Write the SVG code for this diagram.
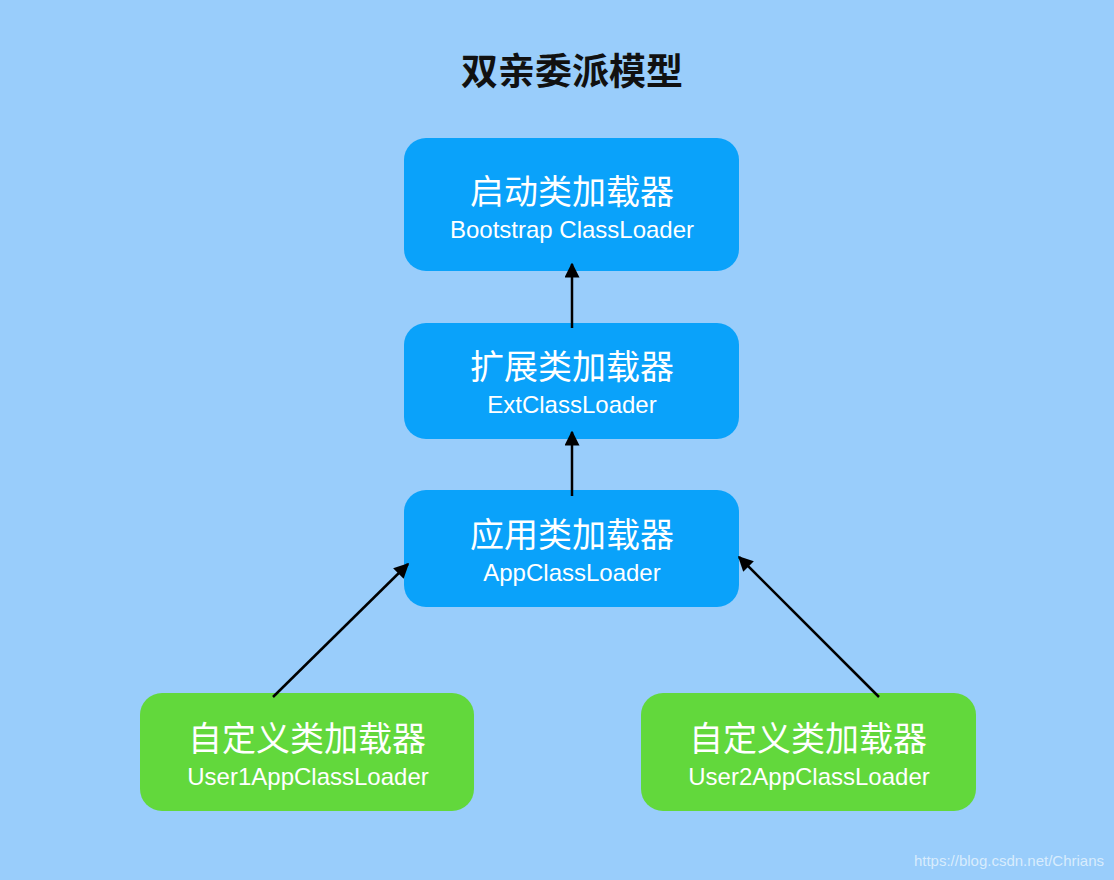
<svg xmlns="http://www.w3.org/2000/svg" width="1114" height="880" viewBox="0 0 1114 880">
<style>
.blue{fill:#0aa2fa}
.green{fill:#62d83c}
.cn{font-family:"Noto Sans CJK SC","Noto Sans",sans-serif;font-size:34px;fill:#fff;text-anchor:middle;font-weight:normal}
.en{font-family:"Liberation Sans","Noto Sans",sans-serif;font-size:24px;fill:#fff;text-anchor:middle}
.title{font-family:"Noto Sans CJK SC",sans-serif;font-size:37px;font-weight:bold;fill:#111;text-anchor:middle}
.edge{stroke:#000;stroke-width:2.5;fill:none;marker-end:url(#ah)}
</style>
<defs>
<marker id="ah" viewBox="0 0 10 10" refX="9" refY="5" markerWidth="6" markerHeight="6" orient="auto" markerUnits="strokeWidth">
<path d="M0,0 L10,5 L0,10 z" fill="#000"/>
</marker>
</defs>
<rect width="1114" height="880" fill="#99cdfb"/>
<text class="title" x="572" y="85">双亲委派模型</text>
<g id="bootstrap">
<rect class="blue" x="404" y="138" width="335" height="133" rx="22"/>
<text class="cn" x="572" y="204">启动类加载器</text>
<text class="en" x="572" y="238">Bootstrap ClassLoader</text>
</g>
<g id="ext">
<rect class="blue" x="404" y="323" width="335" height="116" rx="22"/>
<text class="cn" x="572" y="379">扩展类加载器</text>
<text class="en" x="572" y="413">ExtClassLoader</text>
</g>
<g id="app">
<rect class="blue" x="404" y="490" width="335" height="117" rx="22"/>
<text class="cn" x="572" y="547">应用类加载器</text>
<text class="en" x="572" y="581">AppClassLoader</text>
</g>
<g id="user1">
<rect class="green" x="140" y="693" width="334" height="118" rx="22"/>
<text class="cn" x="307" y="751">自定义类加载器</text>
<text class="en" x="308" y="785">User1AppClassLoader</text>
</g>
<g id="user2">
<rect class="green" x="641" y="693" width="335" height="118" rx="22"/>
<text class="cn" x="808" y="751">自定义类加载器</text>
<text class="en" x="809" y="785">User2AppClassLoader</text>
</g>
<g id="connectors">
<line class="edge" x1="572" y1="328" x2="572" y2="264"/>
<line class="edge" x1="572" y1="496" x2="572" y2="432"/>
<line class="edge" x1="273" y1="697" x2="408" y2="564"/>
<line class="edge" x1="879" y1="697" x2="739" y2="557"/>
</g>
<text x="1104" y="866" font-family="Liberation Sans,sans-serif" font-size="15" fill="#d8ecfd" text-anchor="end">https://blog.csdn.net/Chrians</text>
</svg>
